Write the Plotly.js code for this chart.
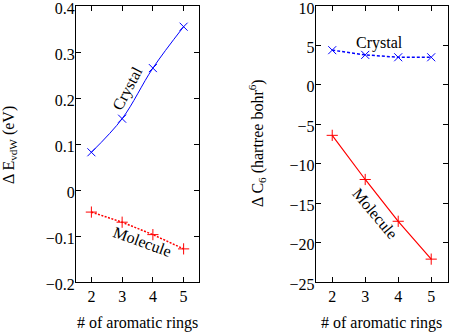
<!DOCTYPE html>
<html>
<head>
<meta charset="utf-8">
<script src="https://cdn.plot.ly/plotly-3.0.1.min.js"></script>
<style>html,body{margin:0;padding:0;background:#fff}#chart{width:450px;height:333px}</style>
</head>
<body>
<div id="chart"></div>
<script>
const rings = [2, 3, 4, 5];
const evdwCrystal = [0.082, 0.155, 0.265, 0.355];
const evdwMolecule = [-0.048, -0.070, -0.097, -0.128];
const c6Crystal = [4.4, 3.8, 3.5, 3.5];
const c6Molecule = [-6.4, -12.0, -17.3, -22.1];
const evdwTicks = [-0.2, -0.1, 0, 0.1, 0.2, 0.3, 0.4];
const evdwTickText = ['\u22120.2', '\u22120.1', '0', '0.1', '0.2', '0.3', '0.4'];
const c6Ticks = [-25, -20, -15, -10, -5, 0, 5, 10];
const c6TickText = ['\u221225', '\u221220', '\u221215', '\u221210', '\u22125', '0', '5', '10'];

const FONT = 'Liberation Serif';
const blue = '#0000ff', red = '#ff0000';

const traces = [
  {x: rings, y: evdwCrystal, xaxis: 'x', yaxis: 'y', mode: 'lines+markers',
   line: {color: blue, width: 1, shape: 'spline'},
   marker: {symbol: 'x-thin-open', size: 8, color: blue, line: {color: blue, width: 1}}},
  {x: rings, y: evdwMolecule, xaxis: 'x', yaxis: 'y', mode: 'lines+markers',
   line: {color: red, width: 1.5, dash: '2px,1.5px'},
   marker: {symbol: 'cross-thin-open', size: 8, color: red, line: {color: red, width: 1}}},
  {x: rings, y: c6Crystal, xaxis: 'x2', yaxis: 'y2', mode: 'lines+markers',
   line: {color: blue, width: 1.5, dash: '3px,2px'},
   marker: {symbol: 'x-thin-open', size: 8, color: blue, line: {color: blue, width: 1}}},
  {x: rings, y: c6Molecule, xaxis: 'x2', yaxis: 'y2', mode: 'lines+markers',
   line: {color: red, width: 1.2},
   marker: {symbol: 'cross-thin-open', size: 8, color: red, line: {color: red, width: 1}}}
];

const axisCommon = {
  showline: true, linecolor: '#000', linewidth: 1, mirror: 'ticks',
  ticks: 'inside', ticklen: 5, tickcolor: '#000', showgrid: false, zeroline: false,
  ticklabeloverflow: 'allow',
  tickfont: {family: FONT, size: 16, color: '#000'}
};

const layout = {
  width: 450, height: 333,
  margin: {l: 0, r: 0, t: 6, b: 51},
  paper_bgcolor: '#fff', plot_bgcolor: '#fff',
  showlegend: false,
  font: {family: FONT, size: 16, color: '#000'},
  xaxis: Object.assign({}, axisCommon, {domain: [0.1689, 0.4422], range: [1.5, 5.5], tickvals: rings, anchor: 'y'}),
  yaxis: Object.assign({}, axisCommon, {range: [-0.2, 0.4], tickvals: evdwTicks, ticktext: evdwTickText, anchor: 'x', ticklabelstandoff: -3, ticklabelshift: 2}),
  xaxis2: Object.assign({}, axisCommon, {domain: [0.7016, 0.9949], range: [1.5, 5.5], tickvals: rings, anchor: 'y2'}),
  yaxis2: Object.assign({}, axisCommon, {range: [-25, 10], tickvals: c6Ticks, ticktext: c6TickText, anchor: 'x2', ticklabelstandoff: -3, ticklabelshift: 2}),
  annotations: [
    {text: 'Crystal', xref: 'x', yref: 'y', x: 3.19, y: 0.222, showarrow: false, textangle: -62, font: {family: FONT, size: 16}},
    {text: 'Molecule', xref: 'x', yref: 'y', x: 3.65, y: -0.113, showarrow: false, textangle: 20, font: {family: FONT, size: 16}},
    {text: 'Crystal', xref: 'x2', yref: 'y2', x: 3.42, y: 5.33, showarrow: false, textangle: 0, font: {family: FONT, size: 16}},
    {text: 'Molecule', xref: 'x2', yref: 'y2', x: 3.30, y: -16.3, showarrow: false, textangle: 50, font: {family: FONT, size: 16}},
    {text: 'Δ E<sub>vdW</sub> (eV)', xref: 'paper', yref: 'paper', x: 9/450, y: (282-145)/276, xanchor: 'center', yanchor: 'middle', showarrow: false, textangle: -90, font: {family: FONT, size: 16}},
    {text: 'Δ C<sub>6</sub> (hartree bohr<sup>6</sup>)', xref: 'paper', yref: 'paper', x: 257/450, y: (282-143)/276, xanchor: 'center', yanchor: 'middle', showarrow: false, textangle: -90, font: {family: FONT, size: 16}},
    {text: '# of aromatic rings', xref: 'paper', yref: 'paper', x: 137/450, y: (282-323)/276, xanchor: 'center', yanchor: 'middle', showarrow: false, font: {family: FONT, size: 16}},
    {text: '# of aromatic rings', xref: 'paper', yref: 'paper', x: 381/450, y: (282-323)/276, xanchor: 'center', yanchor: 'middle', showarrow: false, font: {family: FONT, size: 16}}
  ]
};

Plotly.newPlot('chart', traces, layout, {staticPlot: true, displayModeBar: false});
</script>
</body>
</html>
